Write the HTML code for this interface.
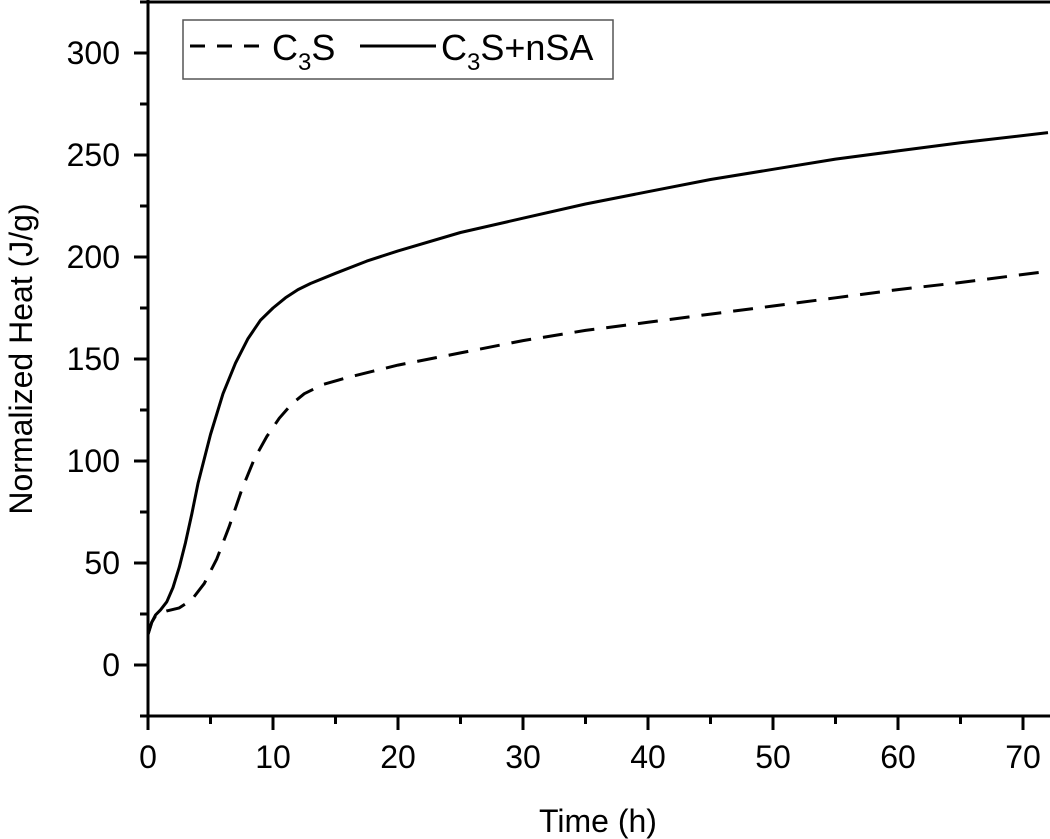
<!DOCTYPE html>
<html><head><meta charset="utf-8"><style>
body{margin:0;background:#fff;}
svg{display:block;font-family:"Liberation Sans",Arial,sans-serif;}
</style></head><body>
<svg id="chart" width="1050" height="839">
<g id="axes"></g>
<g id="series"></g>
<g>
<rect x="183" y="20" width="430" height="59" fill="#fff" stroke="#555" stroke-width="1.5"/>
<line x1="190" y1="46" x2="265" y2="46" stroke="#000" stroke-width="3" stroke-dasharray="15,12"/>
<text x="272" y="60" font-size="36">C<tspan font-size="24" dy="10">3</tspan><tspan dy="-10">S</tspan></text>
<line x1="360" y1="46" x2="436" y2="46" stroke="#000" stroke-width="3"/>
<text x="441" y="60" font-size="36">C<tspan font-size="24" dy="10">3</tspan><tspan dy="-10">S+nSA</tspan></text>
</g>
<text x="598" y="832" font-size="32" text-anchor="middle">Time (h)</text>
<text transform="translate(32,359) rotate(-90)" font-size="32" text-anchor="middle">Normalized Heat (J/g)</text>
</svg>
<script>
const xTicks=[0,10,20,30,40,50,60,70];
const yTicks=[0,50,100,150,200,250,300];
const tC3S=[0,0.3,0.6,1,1.5,2.5,3.5,4.5,5.5,6.5,7.5,8.5,9.5,10.5,11.5,12.5,14,16,18,20,25,30,35,40,45,50,55,60,65,72];
const vC3S=[15,21,24,25.5,26.5,28,32,40,52,68,86,101,112,121,128,133,137.5,141,144,147,153,159,164,168,172,176,180,184,187.5,193];
const tNSA=[0,0.3,0.6,1,1.5,2,2.5,3,3.5,4,5,6,7,8,9,10,11,12,13,15,17.5,20,25,30,35,40,45,50,55,60,65,72];
const vNSA=[15,21,24.5,27,31,38,48,60,74,89,113,133,148,160,169,175,180,184,187,192,198,203,212,219,226,232,238,243,248,252,256,261];
const ns="http://www.w3.org/2000/svg";
const X0=148,XS=12.5,Y0=665,YS=2.04;
function sx(t){return X0+t*XS;}
function sy(v){return Y0-v*YS;}
function mk(tag,attrs,parent){const e=document.createElementNS(ns,tag);for(const k in attrs)e.setAttribute(k,attrs[k]);parent.appendChild(e);return e;}
const ax=document.getElementById('axes');
let l=mk('line',{x1:148,y1:0,x2:148,y2:717,stroke:'#000','stroke-width':3},ax);


l=mk('line',{x1:146,y1:2,x2:1050,y2:2,stroke:'#000','stroke-width':3},ax);


l=mk('line',{x1:147,y1:716,x2:1050,y2:716,stroke:'#000','stroke-width':3},ax);


for(let i=0;i<xTicks.length;i++){const x=sx(xTicks[i]);
 let tk=mk('line',{x1:x,y1:716,x2:x,y2:730,stroke:'#000','stroke-width':3},ax);
 
 
 let m=mk('line',{x1:x+5*XS,y1:716,x2:x+5*XS,y2:724,stroke:'#000','stroke-width':3},ax);
 
 
 let t=mk('text',{x:x,y:768,'font-size':32,'text-anchor':'middle'},ax);t.textContent=xTicks[i];
 
 }
for(let i=0;i<yTicks.length;i++){const y=sy(yTicks[i]);
 let tk=mk('line',{x1:134,y1:y,x2:148,y2:y,stroke:'#000','stroke-width':3},ax);
 
 
 let m=mk('line',{x1:140,y1:y-25*YS,x2:148,y2:y-25*YS,stroke:'#000','stroke-width':3},ax);
 
 
 let t=mk('text',{x:120,y:y+11,'font-size':32,'text-anchor':'end'},ax);t.textContent=yTicks[i];
 
 }
let m0=mk('line',{x1:140,y1:sy(-25),x2:148,y2:sy(-25),stroke:'#000','stroke-width':3},ax);


const sg=document.getElementById('series');
function path(ts,vs){return ts.map((t,i)=>(i?'L':'M')+sx(t).toFixed(1)+','+sy(vs[i]).toFixed(1)).join(' ');}
let p1=mk('path',{d:path(tC3S,vC3S),fill:'none',stroke:'#000','stroke-width':3,'stroke-dasharray':'20,12','stroke-linejoin':'round'},sg);


let p2=mk('path',{d:path(tNSA,vNSA),fill:'none',stroke:'#000','stroke-width':3,'stroke-linejoin':'round'},sg);


</script>
</body></html>
